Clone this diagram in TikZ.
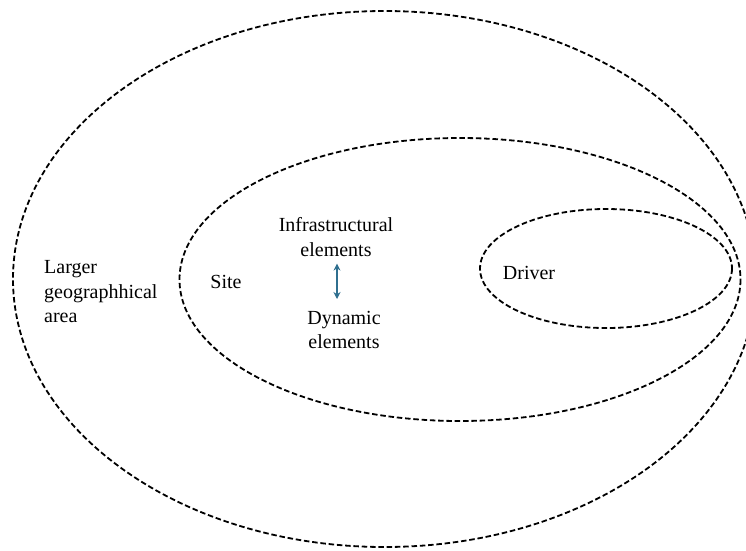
\documentclass[tikz,border=0pt]{standalone}
\usepackage{fontspec}
\setmainfont{Liberation Serif}
\usetikzlibrary{arrows.meta}
\definecolor{arrblue}{HTML}{2F6F8F}
\tikzset{
  region/.style={draw=black, line width=1.8pt, dash pattern=on 5.5pt off 2.8pt},
  lbl/.style={font=\fontsize{20}{24.5}\selectfont, inner sep=0pt, align=center},
  lbll/.style={font=\fontsize{20}{24.5}\selectfont, inner sep=0pt, align=left},
  link/.style={draw=arrblue, line width=1.8pt, {Stealth[length=7pt,width=7pt]}-{Stealth[length=7pt,width=7pt]}}
}
\begin{document}
\begin{tikzpicture}[x=1pt,y=-1pt]
\useasboundingbox (0,0) rectangle (746,550);
\clip (0,0) rectangle (746,550);
\fill[white] (0,0) rectangle (746,550);
\draw[region] (384.5,279) ellipse [x radius=371.5, y radius=268];
\draw[region] (460,279.5) ellipse [x radius=280.5, y radius=141.5];
\draw[region] (606,268.5) ellipse [x radius=126, y radius=59.5];
\node[lbll, anchor=west] (area) at (44,292) {Larger\\geographhical\\area};
\node[lbl] (site) at (226,282) {Site};
\node[lbl] (infra) at (336,237) {Infrastructural\\elements};
\node[lbl] (dyn) at (344,330) {Dynamic\\elements};
\node[lbl] (driver) at (529,273) {Driver};
\draw[link] (infra.south -| 337,0) ++(0,7) coordinate (atop) -- (337,299) coordinate (abot);
\end{tikzpicture}
\end{document}
